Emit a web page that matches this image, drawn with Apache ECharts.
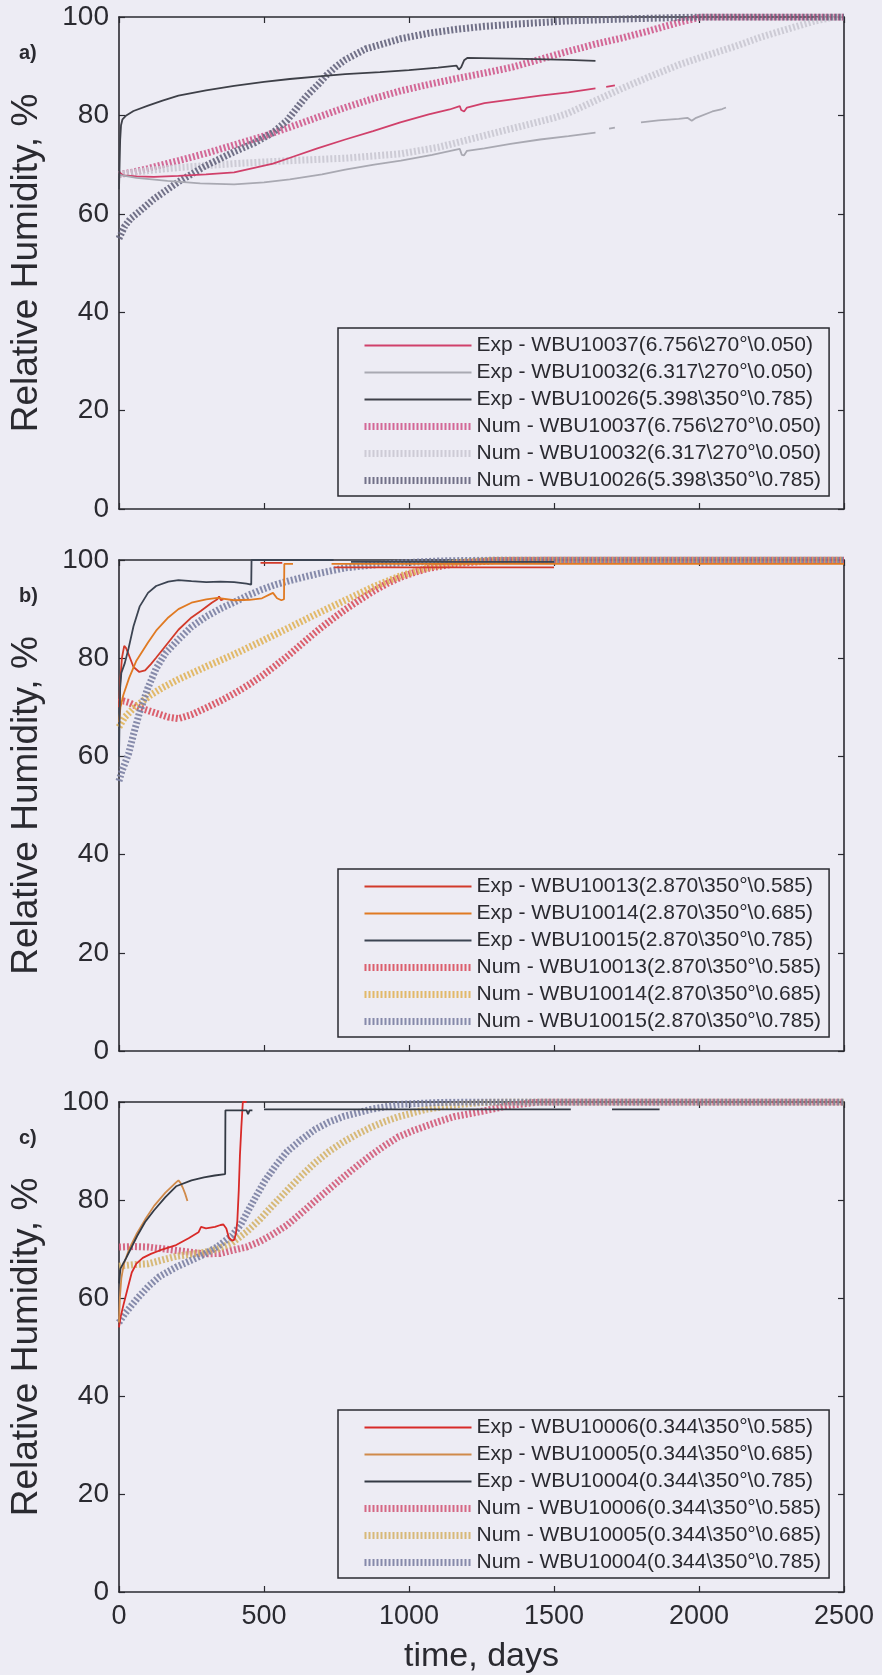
<!DOCTYPE html>
<html>
<head>
<meta charset="utf-8">
<script src="https://cdn.jsdelivr.net/npm/echarts@6/dist/echarts.min.js"></script>
<style>
html,body{margin:0;padding:0;background:#EDECF4;}
#chart{width:882px;height:1675px;}
</style>
</head>
<body>
<div id="chart"></div>
<script>
// ---------- labels ----------
const xTicks = [0, 500, 1000, 1500, 2000, 2500];
const yTicks = [0, 20, 40, 60, 80, 100];
const panelLabels = ['a)', 'b)', 'c)'];
const xName = 'time, days';
const yName = 'Relative Humidity, %';

// ---------- panel a ----------
const aNames = [
  'Exp - WBU10037(6.756\\270°\\0.050)',
  'Exp - WBU10032(6.317\\270°\\0.050)',
  'Exp - WBU10026(5.398\\350°\\0.785)',
  'Num - WBU10037(6.756\\270°\\0.050)',
  'Num - WBU10032(6.317\\270°\\0.050)',
  'Num - WBU10026(5.398\\350°\\0.785)'
];
const aExp10037 = [[0,68.5],[5,68.2],[15,67.8],[60,67.6],[120,67.5],[205,67.7],[300,68],[397,68.4],[470,69.4],[531,70.2],[600,71.6],[684,73.3],[780,75.1],[876,76.8],[970,78.6],[1068,80.2],[1140,81.2],[1175,81.9],[1180,81.1],[1190,80.8],[1200,81.6],[1260,82.5],[1350,83.2],[1452,84],[1550,84.7],[1643,85.5],[1660,null],[1680,85.8],[1710,86.1]];
const aExp10032 = [[0,68],[10,67.8],[60,67.3],[167,66.7],[280,66.2],[397,66],[500,66.4],[589,67],[700,68],[780,69],[880,70],[972,70.8],[1080,72],[1175,73.2],[1182,72],[1190,71.9],[1200,72.8],[1260,73.3],[1350,74.2],[1452,75.1],[1550,75.8],[1643,76.5],[1660,null],[1690,77.3],[1710,77.5],[1730,null],[1800,78.6],[1860,79],[1930,79.3],[1960,79.5],[1975,78.9],[1990,79.5],[2046,80.8],[2080,81.3],[2093,81.6]];
const aExp10026 = [[0,65],[2,70],[4,75],[7,78],[12,79.2],[25,80],[50,80.9],[100,82],[150,83],[205,84],[300,85.1],[397,86],[500,86.8],[589,87.4],[700,88],[780,88.4],[900,88.8],[1000,89.2],[1100,89.7],[1164,90.1],[1172,89.3],[1180,89.8],[1190,91.2],[1202,91.7],[1300,91.6],[1400,91.5],[1547,91.3],[1643,91.1]];
const aNum10037 = [[0,68],[50,68.5],[100,69.2],[205,70.8],[300,72.3],[397,74],[500,75.8],[589,77.6],[684,79.6],[780,81.6],[876,83.4],[972,85],[1068,86.3],[1164,87.5],[1260,88.6],[1356,89.8],[1452,91.4],[1547,93],[1643,94.5],[1739,95.8],[1835,97.3],[1931,98.9],[2008,100],[2500,100]];
const aNum10032 = [[0,68],[100,68.8],[205,69.4],[397,70.2],[589,70.8],[780,71.3],[972,72.2],[1100,73.5],[1200,75],[1300,76.5],[1400,78],[1500,79.5],[1547,80.4],[1643,83],[1739,85.6],[1835,88],[1931,90.3],[2027,92.2],[2123,94],[2218,96],[2314,97.7],[2400,99.2],[2467,100],[2500,100]];
const aNum10026 = [[0,55],[20,57.5],[40,59],[71,60.5],[120,63],[205,66.5],[300,69.8],[397,72.6],[470,74.5],[531,76.5],[580,79],[620,82],[646,83.9],[690,86.5],[716,88.2],[750,90],[780,91.3],[850,93.5],[972,95.6],[1068,96.7],[1164,97.5],[1260,98.1],[1356,98.5],[1547,99.2],[1739,99.6],[2000,100],[2500,100]];

// ---------- panel b ----------
const bNames = [
  'Exp - WBU10013(2.870\\350°\\0.585)',
  'Exp - WBU10014(2.870\\350°\\0.685)',
  'Exp - WBU10015(2.870\\350°\\0.785)',
  'Num - WBU10013(2.870\\350°\\0.585)',
  'Num - WBU10014(2.870\\350°\\0.685)',
  'Num - WBU10015(2.870\\350°\\0.785)'
];
const bExp10013 = [[0,70],[4,75],[10,80],[18,82.5],[25,82],[35,80.5],[50,78.2],[70,77.2],[90,77.5],[110,78.8],[128,80.1],[170,83.2],[205,85.8],[250,88.3],[282,89.6],[320,91.3],[339,92],[345,92.6],[352,91.8],[360,92],[361,null],[488,99.4],[563,99.4],[564,null],[742,98.5],[1500,98.5]];
const bExp10014 = [[0,67],[5,70],[15,72.5],[35,76],[60,79.5],[100,83.2],[128,85.6],[170,88.3],[205,90],[250,91.3],[301,92],[339,92.3],[397,91.8],[450,91.9],[493,92.2],[520,93],[531,93.3],[545,92.2],[560,91.8],[569,92],[570,99.2],[600,99.2],[601,null],[733,99.2],[2500,99.2]];
const bExp10015 = [[0,60],[2,68],[4,74],[8,77],[20,79],[33,82],[50,86.5],[71,90.5],[100,93.3],[128,94.7],[170,95.6],[205,95.9],[250,95.7],[301,95.5],[350,95.6],[397,95.5],[440,95.2],[456,95],[457,100],[740,100],[741,null],[800,99.6],[1500,99.6]];
const bNum10013 = [[0,71],[15,71.3],[33,71],[71,69.9],[128,68.8],[170,68],[205,67.7],[250,68.5],[301,69.9],[350,71.3],[397,72.8],[445,74.5],[493,76.4],[540,78.5],[589,80.8],[636,83.2],[684,85.6],[732,87.8],[780,89.9],[828,91.8],[876,93.6],[924,95.2],[972,96.5],[1020,97.5],[1068,98.3],[1164,99.3],[1300,99.9],[1500,100],[2500,100]];
const bNum10014 = [[0,66],[20,68],[52,69.9],[109,72.5],[150,74],[205,75.7],[301,78.3],[397,80.8],[493,83.5],[589,86.3],[684,89.1],[780,91.8],[876,94.5],[972,96.8],[1068,98.5],[1164,99.5],[1300,100],[2500,100]];
const bNum10015 = [[0,55],[10,57],[33,60.5],[50,64.5],[71,69],[100,74],[128,77.9],[160,81],[205,83.8],[250,86.4],[301,88.5],[350,90.1],[397,91.4],[445,92.8],[493,94],[540,95],[589,95.8],[684,97.2],[780,98.4],[876,99],[972,99.4],[1100,99.8],[1300,100],[2500,100]];

// ---------- panel c ----------
const cNames = [
  'Exp - WBU10006(0.344\\350°\\0.585)',
  'Exp - WBU10005(0.344\\350°\\0.685)',
  'Exp - WBU10004(0.344\\350°\\0.785)',
  'Num - WBU10006(0.344\\350°\\0.585)',
  'Num - WBU10005(0.344\\350°\\0.685)',
  'Num - WBU10004(0.344\\350°\\0.785)'
];
const cExp10006 = [[0,54],[5,56],[15,58.5],[30,62],[44,65.2],[60,67],[82,68.2],[110,69],[140,69.7],[197,70.8],[240,72.2],[274,73.4],[283,74.5],[300,74.2],[331,74.5],[350,74.9],[360,75],[370,74.2],[379,72.3],[390,71.7],[398,71.9],[404,73.5],[408,75.7],[413,82],[417,89.1],[422,95],[427,100],[440,100]];
const cExp10005 = [[0,55],[3,60],[8,64],[17,67],[35,70],[60,73],[90,76],[121,78.8],[160,81.5],[197,83.6],[205,84],[212,83.5],[220,82.5],[228,81.3],[236,79.8]];
const cExp10004 = [[0,63],[5,66],[25,68.2],[63,72.7],[90,75.5],[121,77.9],[160,80.6],[197,82.8],[250,84],[293,84.6],[330,85],[366,85.3],[367,98.3],[440,98.3],[445,97.5],[450,98.3],[460,98.3],[470,null],[500,98.5],[1558,98.5],[1600,null],[1700,98.5],[1864,98.5]];
const cNum10006 = [[0,70.4],[50,70.5],[101,70.4],[197,69.7],[293,69],[350,69.1],[389,69.7],[440,70.4],[485,71.5],[530,73],[580,74.9],[628,77.3],[676,79.8],[724,82.2],[772,84.6],[820,86.9],[868,89.1],[916,91.1],[964,92.9],[1012,94.1],[1059,95.1],[1107,96.1],[1155,97],[1251,98.1],[1347,99.3],[1450,100],[2500,100]];
const cNum10005 = [[0,66.5],[50,66.8],[101,67],[197,68.5],[293,69.3],[340,70],[389,71.2],[440,73.5],[485,76],[532,79],[580,82],[628,84.9],[676,87.6],[724,89.9],[772,91.8],[820,93.4],[868,94.8],[916,96],[964,97],[1059,98.5],[1155,99.4],[1250,99.9],[1350,100],[2500,100]];
const cNum10004 = [[0,55],[20,56.8],[63,59.9],[100,62.3],[140,64.4],[197,66.3],[245,67.6],[293,68.9],[340,70.5],[389,72.7],[420,75],[446,77.9],[475,81],[503,83.9],[540,87],[580,89.9],[628,92.3],[676,94.4],[724,95.9],[772,97],[868,98.5],[964,99.5],[1100,99.9],[1200,100],[2500,100]];

// ---------- colours ----------
const aColors = ['#D0406A', '#A9A9B2', '#3E4048', '#CF5A8C', '#C9C8D2', '#64647C'];
const bColors = ['#D23A2A', '#E07A22', '#3C4452', '#D8505E', '#E0B45A', '#7A80A2'];
const cColors = ['#D82A28', '#D08A4A', '#343A44', '#D25A78', '#D4B46A', '#7A80A2'];

const panels = [
  {names: aNames, data: [aExp10037, aExp10032, aExp10026, aNum10037, aNum10032, aNum10026], colors: aColors},
  {names: bNames, data: [bExp10013, bExp10014, bExp10015, bNum10013, bNum10014, bNum10015], colors: bColors},
  {names: cNames, data: [cExp10006, cExp10005, cExp10004, cNum10006, cNum10005, cNum10004], colors: cColors}
];

// ---------- layout ----------
const FONT = '"Liberation Sans", Arial, sans-serif';
const INK = '#2a2a30';
const BG = '#EDECF4';
const gridTops = [17, 560, 1102];
const gridH = [492, 491, 490];
const GL = 110, GW = 734;
const legendTops = [328, 869, 1410];
const legendLeft = 338;
const NUM_W = 7, EXP_W = 1.8, DASH = [2, 2];

const grids = [], xAxes = [], yAxes = [], series = [], legends = [], titles = [];
panels.forEach((p, i) => {
  grids.push({left: GL, top: gridTops[i], width: GW, height: gridH[i], show: false});
  const axLine = {show: true, onZero: false, lineStyle: {color: INK, width: 1.6}};
  const tick = {show: true, inside: true, length: 6, lineStyle: {color: INK, width: 1.2}};
  xAxes.push({
    gridIndex: i, type: 'value', min: 0, max: 2500, interval: 500, position: 'bottom',
    axisLine: axLine, axisTick: tick, splitLine: {show: false},
    axisLabel: {show: i === 2, fontSize: 27, fontFamily: FONT, color: INK, margin: 11,
      formatter: v => xTicks.includes(v) ? String(v) : ''},
    name: i === 2 ? xName : '', nameLocation: 'middle', nameGap: 48,
    nameTextStyle: {fontSize: 34, fontFamily: FONT, color: INK}
  });
  xAxes.push({
    gridIndex: i, type: 'value', min: 0, max: 2500, interval: 500, position: 'top',
    axisLine: axLine, axisTick: tick, splitLine: {show: false}, axisLabel: {show: false}
  });
  yAxes.push({
    gridIndex: i, type: 'value', min: 0, max: 100, interval: 20, position: 'left',
    axisLine: axLine, axisTick: tick, splitLine: {show: false},
    axisLabel: {fontSize: 28, fontFamily: FONT, color: INK, margin: 10,
      formatter: v => yTicks.includes(v) ? String(v) : ''},
    name: yName, nameLocation: 'middle', nameGap: 74,
    nameTextStyle: {fontSize: 37, fontFamily: FONT, color: INK}
  });
  yAxes.push({
    gridIndex: i, type: 'value', min: 0, max: 100, interval: 20, position: 'right',
    axisLine: axLine, axisTick: tick, splitLine: {show: false}, axisLabel: {show: false}
  });
  // Num series first (drawn underneath), then Exp
  const order = [3, 4, 5, 0, 1, 2];
  order.forEach(k => {
    const isNum = k >= 3;
    series.push({
      type: 'line', name: p.names[k], data: p.data[k],
      xAxisIndex: 2 * i, yAxisIndex: 2 * i,
      symbol: 'none', showSymbol: false, connectNulls: false, silent: true,
      lineStyle: isNum ? {color: p.colors[k], width: NUM_W, type: DASH, cap: 'butt', opacity: 0.9}
                       : {color: p.colors[k], width: EXP_W},
      itemStyle: {color: p.colors[k]},
      z: isNum ? 2 : 3
    });
  });
  legends.push({
    show: true, orient: 'vertical', left: legendLeft, top: legendTops[i],
    itemWidth: 107, itemHeight: 21, itemGap: 6,
    padding: [7, 8, 5, 23],
    borderColor: INK, borderWidth: 1.5, backgroundColor: BG,
    selectedMode: false,
    textStyle: {fontSize: 21, fontFamily: FONT, color: INK, lineHeight: 21},
    data: p.names.map((n, k) => ({
      name: n,
      itemStyle: {color: 'rgba(0,0,0,0)', borderWidth: 0, opacity: 0},
      lineStyle: k >= 3 ? {width: NUM_W, type: DASH, color: p.colors[k], cap: 'butt', opacity: 0.9}
                        : {width: EXP_W, type: 'solid', color: p.colors[k], opacity: 1}
    }))
  });
  titles.push({
    text: panelLabels[i], left: 14, top: gridTops[i] + 21,
    textStyle: {fontSize: 20, fontWeight: 'bold', fontFamily: FONT, color: INK}
  });
});

const chart = echarts.init(document.getElementById('chart'), null, {renderer: 'canvas'});
chart.setOption({
  backgroundColor: BG,
  animation: false,
  title: titles,
  grid: grids,
  xAxis: xAxes,
  yAxis: yAxes,
  legend: legends,
  series: series
});
</script>
</body>
</html>
